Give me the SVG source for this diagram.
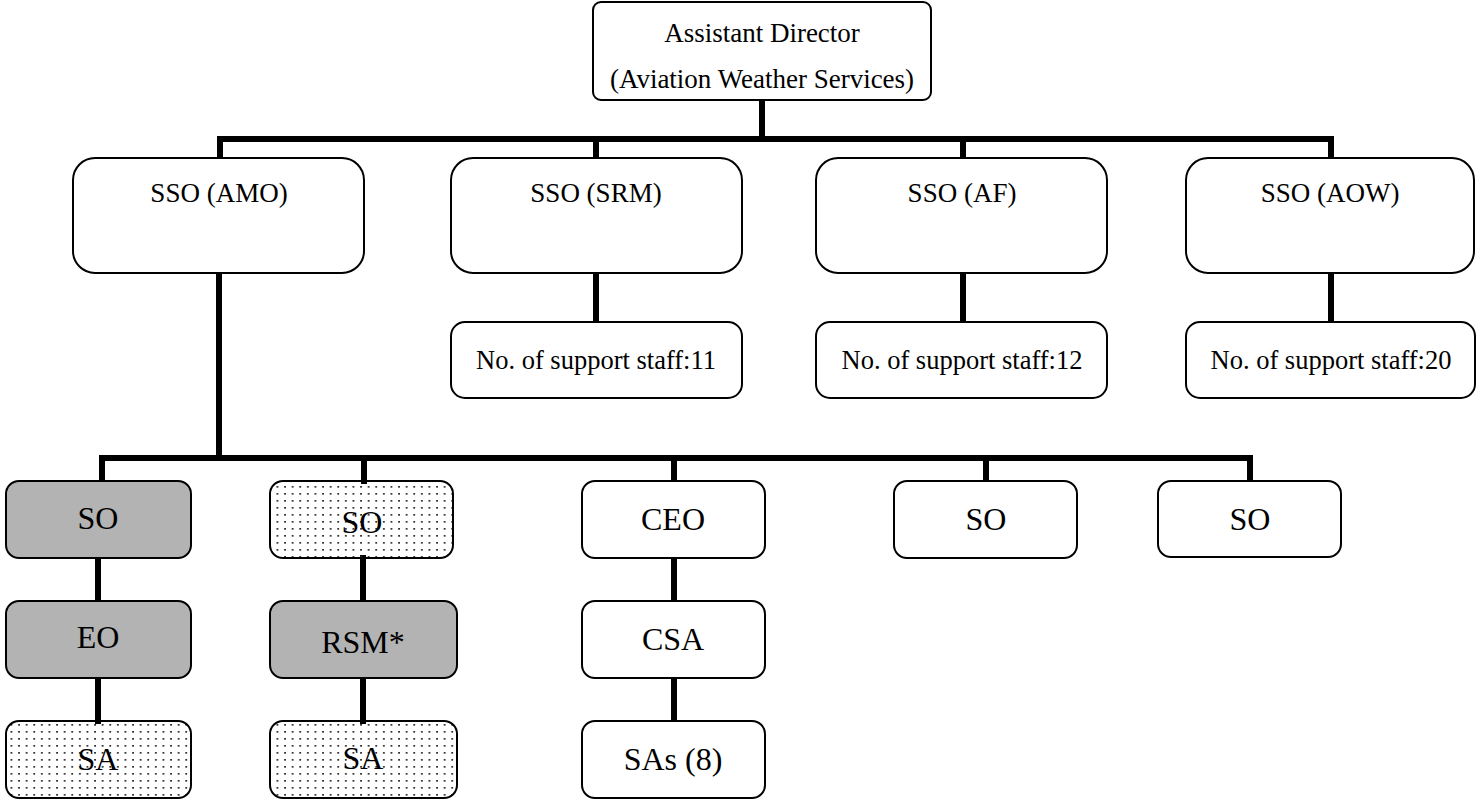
<svg xmlns="http://www.w3.org/2000/svg" width="1477" height="802" viewBox="0 0 1477 802">
<defs>
<pattern id="dots" patternUnits="userSpaceOnUse" x="0" y="0" width="7.6" height="7" >
<rect x="3" y="3" width="1.7" height="1.7" fill="#222"/>
</pattern>
<style>
.box{fill:#fff;stroke:#000;stroke-width:2}
.grey{fill:#b3b3b3;stroke:#000;stroke-width:2}
.dot{fill:url(#dots);stroke:#000;stroke-width:2}
.t{font-family:"Liberation Serif","Times New Roman",serif;fill:#000;text-anchor:middle}
.t27{font-size:27px}
.t26{font-size:26.5px}
.t31{font-size:32px}
.c{fill:none;stroke:#000;stroke-width:6;stroke-linecap:square}
</style>
</defs>
<rect width="1477" height="802" fill="#fff"/>
<g id="connectors">
<path class="c" d="M762 100 V139 M220 139 H1331 M220 139 V158 M596 139 V158 M963 139 V158 M1331 139 V158"/>
<path class="c" d="M596 273 V322 M963 273 V322 M1331 273 V322"/>
<path class="c" d="M219 273 V458 M102 458 H1250 M102 458 V481 M364 458 V481 M674 458 V481 M986 458 V481 M1250 458 V481"/>
<path class="c" d="M98 558 V601 M98 678 V721 M363 558 V601 M363 678 V721 M674 558 V601 M674 678 V721"/>
</g>
<g id="n-ad"><rect class="box" x="593" y="2" width="338" height="98" rx="8"/>
<text class="t t27" x="762" y="42">Assistant Director</text>
<text class="t t27" x="762" y="88">(Aviation Weather Services)</text></g>
<g id="n-amo"><rect class="box" x="73" y="158" width="291" height="115" rx="22"/><text class="t t27" x="219" y="202">SSO (AMO)</text></g>
<g id="n-srm"><rect class="box" x="451" y="158" width="291" height="115" rx="22"/><text class="t t27" x="596" y="202">SSO (SRM)</text></g>
<g id="n-af"><rect class="box" x="816" y="158" width="291" height="115" rx="22"/><text class="t t27" x="962" y="202">SSO (AF)</text></g>
<g id="n-aow"><rect class="box" x="1186" y="158" width="288" height="115" rx="22"/><text class="t t27" x="1330" y="202">SSO (AOW)</text></g>
<g id="n-s11"><rect class="box" x="451" y="322" width="291" height="76" rx="14"/><text class="t t26" x="596" y="369">No. of support staff:11</text></g>
<g id="n-s12"><rect class="box" x="816" y="322" width="291" height="76" rx="14"/><text class="t t26" x="962" y="369">No. of support staff:12</text></g>
<g id="n-s20"><rect class="box" x="1186" y="322" width="289" height="76" rx="14"/><text class="t t26" x="1331" y="369">No. of support staff:20</text></g>
<g id="n-so1"><rect class="grey" x="6" y="481" width="185" height="77" rx="13"/><text class="t t31" x="98" y="529">SO</text></g>
<g id="n-eo"><rect class="grey" x="6" y="601" width="185" height="77" rx="13"/><text class="t t31" x="98" y="648">EO</text></g>
<g id="n-sa1"><rect class="dot" x="6" y="721" width="185" height="77" rx="13"/><text class="t t31" x="98" y="770">SA</text></g>
<g id="n-so2"><rect class="dot" x="270" y="481" width="183" height="77" rx="13"/><text class="t t31" x="362" y="533">SO</text></g>
<g id="n-rsm"><rect class="grey" x="270" y="601" width="187" height="77" rx="13"/><text class="t t31" x="363" y="653">RSM*</text></g>
<g id="n-sa2"><rect class="dot" x="270" y="721" width="187" height="77" rx="13"/><text class="t t31" x="363" y="769">SA</text></g>
<g id="n-ceo"><rect class="box" x="582" y="481" width="183" height="77" rx="13"/><text class="t t31" x="673" y="530">CEO</text></g>
<g id="n-csa"><rect class="box" x="582" y="601" width="183" height="77" rx="13"/><text class="t t31" x="673" y="650">CSA</text></g>
<g id="n-sas"><rect class="box" x="582" y="721" width="183" height="77" rx="13"/><text class="t t31" x="673" y="770">SAs (8)</text></g>
<g id="n-so3"><rect class="box" x="894" y="481" width="183" height="77" rx="13"/><text class="t t31" x="986" y="530">SO</text></g>
<g id="n-so4"><rect class="box" x="1158" y="481" width="183" height="76" rx="13"/><text class="t t31" x="1250" y="530">SO</text></g>
</svg>
